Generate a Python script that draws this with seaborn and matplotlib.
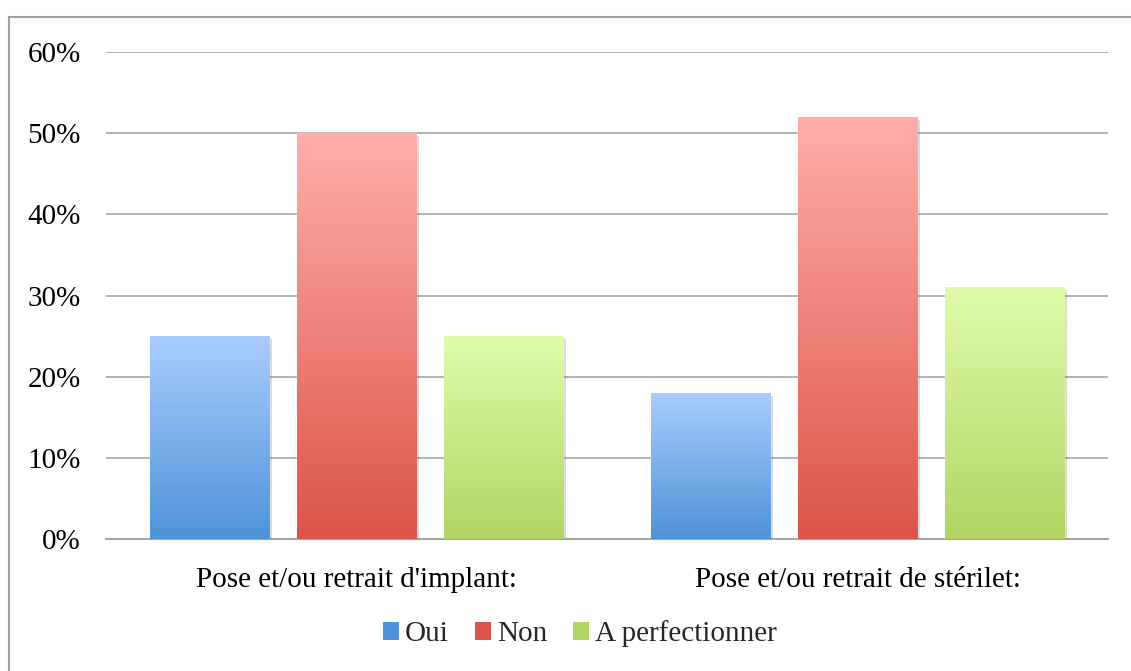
import numpy as np
import pandas as pd
import matplotlib
matplotlib.use("Agg")
import matplotlib.pyplot as plt
import matplotlib.patheffects as pe
from matplotlib.colors import LinearSegmentedColormap
from matplotlib.patches import Rectangle, Patch
from matplotlib.ticker import PercentFormatter
import seaborn as sns

# --- données ---
CATEGORIES = ["Pose et/ou retrait d'implant:", "Pose et/ou retrait de stérilet:"]
REPONSES = ["Oui", "Non", "A perfectionner"]
OUI = [0.25, 0.18]
NON = [0.50, 0.52]
A_PERF = [0.25, 0.31]
Y_TICKS = [0.0, 0.1, 0.2, 0.3, 0.4, 0.5, 0.6]

# dégradés (haut, bas) par réponse
GRADIENTS = {
    "Oui": ("#aacdff", "#4f93d8"),
    "Non": ("#ffaeaa", "#dc5449"),
    "A perfectionner": ("#e0fcaa", "#b2d463"),
}

df = pd.DataFrame({
    "Categorie": CATEGORIES * 3,
    "Reponse": [r for r in REPONSES for _ in CATEGORIES],
    "Valeur": OUI + NON + A_PERF,
})

sns.set_theme(style="white")
plt.rcParams["font.family"] = ["Liberation Serif", "DejaVu Serif"]

fig = plt.figure(figsize=(11.31, 6.71), dpi=100)
ax = fig.add_axes([106 / 1131, 1 - 539 / 671, 1002 / 1131, 487 / 671])

palette = {k: v[1] for k, v in GRADIENTS.items()}
sns.barplot(data=df, x="Categorie", y="Valeur", hue="Reponse", hue_order=REPONSES,
            order=CATEGORIES, palette=palette, width=0.88, gap=0.19,
            saturation=1, legend=False, ax=ax, zorder=3)

# dégradé vertical dans chaque barre
grad = np.linspace(0, 1, 256).reshape(-1, 1)
for reponse, cont in zip(REPONSES, ax.containers):
    top, bottom = GRADIENTS[reponse]
    cmap = LinearSegmentedColormap.from_list(reponse, [top, bottom])
    for bar in cont:
        bar.set_path_effects([pe.SimplePatchShadow(offset=(2, -2), shadow_rgbFace="#000000", alpha=0.15),
                              pe.Normal()])
        x0, y0 = bar.get_x(), bar.get_y()
        w, h = bar.get_width(), bar.get_height()
        im = ax.imshow(grad, cmap=cmap, aspect="auto", extent=(x0, x0 + w, y0, y0 + h),
                       zorder=4, interpolation="bicubic")
        im.set_clip_path(bar)

ax.set_xlim(-0.5, 1.5)
ax.set_ylim(0, 0.6)

ax.set_yticks(Y_TICKS)
ax.yaxis.set_major_formatter(PercentFormatter(1.0, decimals=0))
ax.grid(axis="y", color="#a4a4a4", linewidth=1.2, zorder=0)
ax.set_axisbelow(True)
ax.set_xlabel("")
ax.set_ylabel("")
ax.tick_params(axis="y", labelsize=21, length=0, pad=18, labelcolor="black")
ax.tick_params(axis="x", labelsize=21, length=0, pad=20, labelcolor="black")

for side in ["top", "right", "left"]:
    ax.spines[side].set_visible(False)
ax.spines["bottom"].set_color("#a4a4a4")
ax.spines["bottom"].set_linewidth(1.4)

# légende
handles = []
for reponse in REPONSES:
    handles.append(Patch(facecolor=GRADIENTS[reponse][1], edgecolor="none", label=reponse))
fig.legend(handles=handles, loc="center", bbox_to_anchor=(580 / 1131, 1 - 634 / 671),
           ncol=3, frameon=False, fontsize=21, handlelength=0.55, handleheight=0.55,
           handletextpad=0.2, columnspacing=0.9)

# cadre du graphique
fig.patches.append(Rectangle((9 / 1131, -0.1), 1.2, 1.1 - 17 / 671, transform=fig.transFigure,
                             fill=False, edgecolor="#a0a0a0", linewidth=1.5))

fig.savefig("out.png", dpi=100)
